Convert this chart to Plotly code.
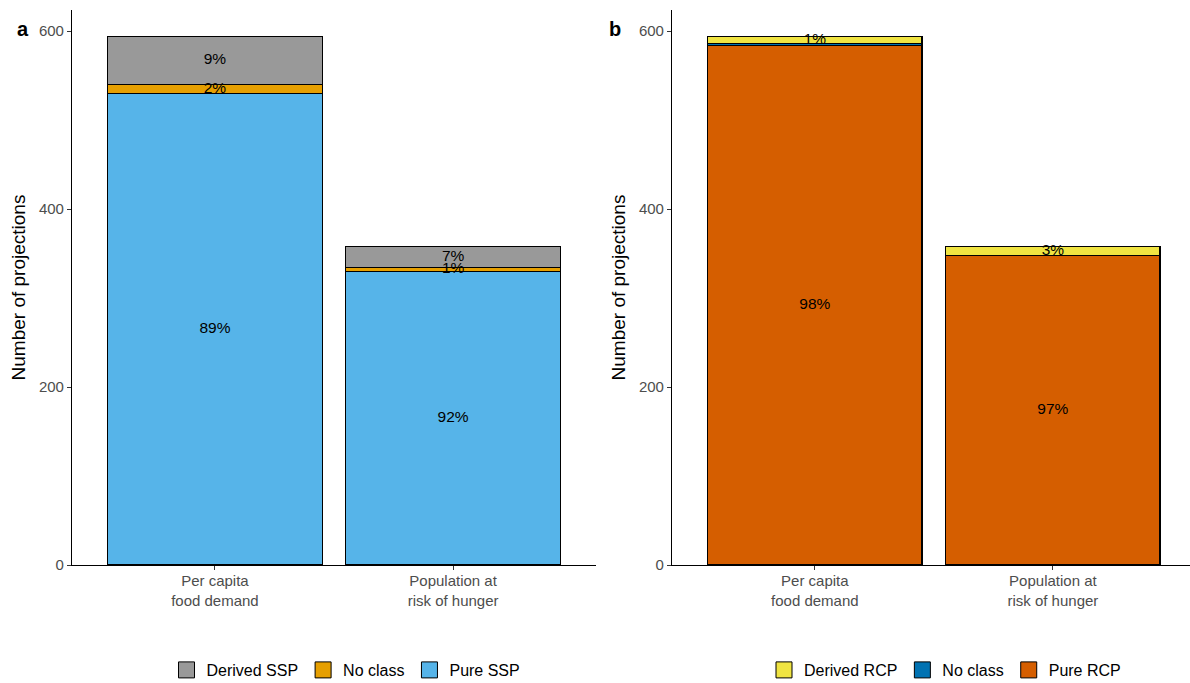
import plotly.graph_objects as go

# Projection counts by study variable and scenario class
categories = ["Per capita<br>food demand", "Population at<br>risk of hunger"]

ssp_classes = ["Pure SSP", "No class", "Derived SSP"]
ssp_pure = [530, 330]
ssp_noclass = [10, 4]
ssp_derived = [54, 24]

rcp_classes = ["Pure RCP", "No class", "Derived RCP"]
rcp_pure = [584, 348]
rcp_noclass = [2, 0]
rcp_derived = [8, 10]

ssp_colors = ["#56B4E9", "#E69F00", "#999999"]
rcp_colors = ["#D55E00", "#0072B2", "#F0E442"]

FONT = "Liberation Sans, Arial, sans-serif"

fig = go.Figure()


def add_panel(series, names, colors, xref, yref, legend):
    totals = [sum(v) for v in zip(*series)]
    base = [0] * len(categories)
    for vals, name, col in zip(series, names, colors):
        fig.add_trace(go.Bar(
            x=categories, y=vals, name=name, marker=dict(color=col, line=dict(color="black", width=1.1)),
            xaxis=xref, yaxis=yref, showlegend=False, hoverinfo="x+y+name",
        ))
        mids, texts = [], []
        for i, v in enumerate(vals):
            pct = round(100 * v / totals[i])
            mids.append(base[i] + v / 2)
            texts.append(f"{pct}%" if pct >= 1 else "")
            base[i] += v
        fig.add_trace(go.Scatter(
            x=categories, y=mids, text=texts, mode="text", textposition="middle center",
            textfont=dict(size=15.5, color="black", family=FONT), xaxis=xref, yaxis=yref,
            showlegend=False, hoverinfo="skip",
        ))
    # legend keys, listed top class first
    for name, col in list(zip(names, colors))[::-1]:
        fig.add_trace(go.Scatter(
            x=[None], y=[None], mode="markers", name=name, legend=legend,
            marker=dict(symbol="square", size=22, color=col, line=dict(color="black", width=1)),
            xaxis=xref, yaxis=yref,
        ))


add_panel([ssp_pure, ssp_noclass, ssp_derived], ssp_classes, ssp_colors, "x", "y", "legend")
add_panel([rcp_pure, rcp_noclass, rcp_derived], rcp_classes, rcp_colors, "x2", "y2", "legend2")

W, H = 1190, 683
ydom = [118 / H, 673 / H]

axis_common = dict(
    showline=True, linecolor="black", linewidth=1.1, showgrid=False, zeroline=False,
    ticks="outside", ticklen=4, tickcolor="#333333", tickwidth=1,
)

xaxis_common = dict(axis_common, tickfont=dict(size=15, color="#4D4D4D", family=FONT),
                    ticklabelstandoff=-2)

yaxis_common = dict(
    axis_common, range=[0, 623.7], tickvals=[0, 200, 400, 600],
    tickfont=dict(size=15, color="#4D4D4D", family=FONT),
    title=dict(text="Number of projections", font=dict(size=19, color="black", family=FONT), standoff=8),
)

legend_common = dict(
    orientation="h", yanchor="middle", y=(H - 670) / H, xanchor="center",
    font=dict(size=16, color="black", family=FONT), bgcolor="rgba(0,0,0,0)",
    traceorder="normal", itemwidth=30,
)

fig.update_layout(
    width=W, height=H, margin=dict(l=0, r=0, t=0, b=0, autoexpand=False),
    paper_bgcolor="white", plot_bgcolor="white",
    barmode="stack", bargap=0.1,
    font=dict(family=FONT),
    xaxis=dict(xaxis_common, domain=[72 / W, 596 / W], range=[-0.6, 1.6], anchor="y"),
    yaxis=dict(yaxis_common, domain=ydom, anchor="x"),
    xaxis2=dict(xaxis_common, domain=[672 / W, 1.0], range=[-0.6, 1.576], anchor="y2"),
    yaxis2=dict(yaxis_common, domain=ydom, anchor="x2"),
    legend=dict(legend_common, x=346 / W),
    legend2=dict(legend_common, x=945 / W),
    annotations=[
        dict(text="<b>a</b>", x=15 / W, y=(H - 16) / H, xref="paper", yref="paper",
             showarrow=False, font=dict(size=20, color="black", family=FONT)),
        dict(text="<b>b</b>", x=615 / W, y=(H - 16) / H, xref="paper", yref="paper",
             showarrow=False, font=dict(size=20, color="black", family=FONT)),
    ],
)

fig.write_html("out.html")
